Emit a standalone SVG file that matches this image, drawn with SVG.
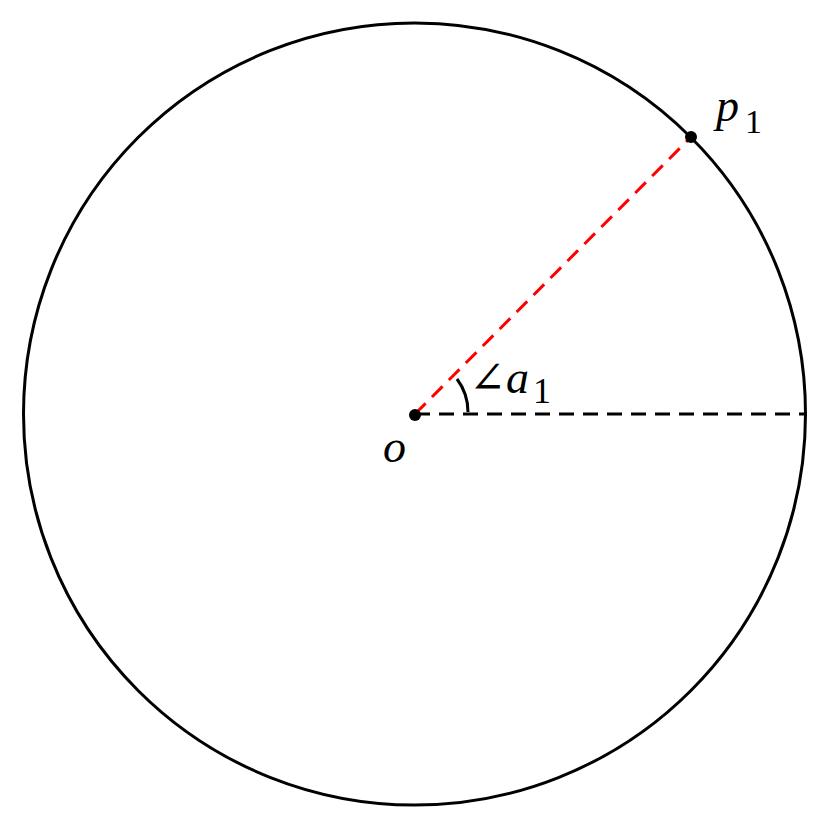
<svg xmlns="http://www.w3.org/2000/svg" width="830" height="830" viewBox="0 0 830 830">
<style>
.m{font-family:"Liberation Serif","DejaVu Serif",serif;font-style:italic;fill:#000}
.s{font-family:"Liberation Serif","DejaVu Serif",serif;fill:#000}
.ang{font-family:"DejaVu Serif",serif;fill:#000}
</style>
<rect width="830" height="830" fill="#fff"/>
<g id="circle"><circle cx="414.5" cy="414" r="391" fill="none" stroke="#000" stroke-width="3"/></g>
<g id="connectors">
<line x1="415" y1="414" x2="806" y2="414" stroke="#000" stroke-width="3" stroke-dasharray="15 9"/>
<line x1="415" y1="414" x2="691" y2="137" stroke="#f00" stroke-width="3" stroke-dasharray="15 9"/>
<path d="M457,379 A55,55 0 0 1 468,412" fill="none" stroke="#000" stroke-width="3"/>
</g>
<g id="o"><circle cx="415" cy="415" r="6" fill="#000"/><text class="m" x="383" y="462" font-size="46">o</text></g>
<g id="p1"><circle cx="691" cy="137" r="6" fill="#000"/><text class="m" x="716" y="121" font-size="46">p</text><text class="s" x="745" y="133" font-size="34">1</text></g>
<g id="angle"><text class="ang" x="469" y="393" font-size="44">∠</text><text class="m" x="506" y="393" font-size="46">a</text><text class="s" x="533" y="403" font-size="36">1</text></g>
</svg>
